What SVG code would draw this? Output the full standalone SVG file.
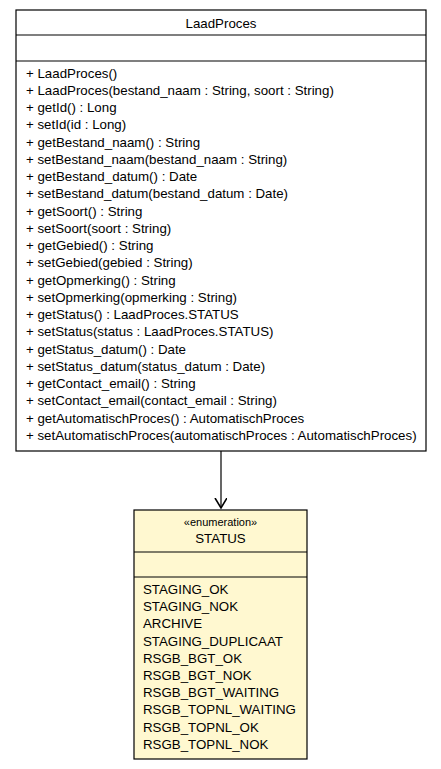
<svg xmlns="http://www.w3.org/2000/svg" width="441" height="769" viewBox="0 0 441 769">
<style>
text{font-family:"Liberation Sans",Arial,sans-serif;font-size:13.3px;fill:#000}
.c{text-anchor:middle}
.st{font-size:11px}
.box{fill:#fff;stroke:#000;stroke-width:1.2}
.enum{fill:#FFF8D0;stroke:#000;stroke-width:1.2}
.ln{stroke:#000;stroke-width:1.2}
.conn{stroke:#000;stroke-width:1.2;fill:none}
</style>
<defs>
<marker id="open" markerWidth="14" markerHeight="14" refX="10" refY="6" orient="auto" markerUnits="userSpaceOnUse">
<path d="M0,0 L10,6 L0,12" fill="none" stroke="#000" stroke-width="1.6"/>
</marker>
</defs>
<rect x="0" y="0" width="441" height="769" fill="#fff"/>
<g id="LaadProces">
<rect class="box" x="16" y="10" width="410" height="441"/>
<line class="ln" x1="16" y1="35" x2="426" y2="35"/>
<line class="ln" x1="16" y1="61" x2="426" y2="61"/>
<text class="c" x="221" y="27.5">LaadProces</text>
<text x="26" y="77.5">+ LaadProces()</text>
<text x="26" y="94.75">+ LaadProces(bestand_naam : String, soort : String)</text>
<text x="26" y="112">+ getId() : Long</text>
<text x="26" y="129.25">+ setId(id : Long)</text>
<text x="26" y="146.5">+ getBestand_naam() : String</text>
<text x="26" y="163.75">+ setBestand_naam(bestand_naam : String)</text>
<text x="26" y="181">+ getBestand_datum() : Date</text>
<text x="26" y="198.25">+ setBestand_datum(bestand_datum : Date)</text>
<text x="26" y="215.5">+ getSoort() : String</text>
<text x="26" y="232.75">+ setSoort(soort : String)</text>
<text x="26" y="250">+ getGebied() : String</text>
<text x="26" y="267.25">+ setGebied(gebied : String)</text>
<text x="26" y="284.5">+ getOpmerking() : String</text>
<text x="26" y="301.75">+ setOpmerking(opmerking : String)</text>
<text x="26" y="319">+ getStatus() : LaadProces.STATUS</text>
<text x="26" y="336.25">+ setStatus(status : LaadProces.STATUS)</text>
<text x="26" y="353.5">+ getStatus_datum() : Date</text>
<text x="26" y="370.75">+ setStatus_datum(status_datum : Date)</text>
<text x="26" y="388">+ getContact_email() : String</text>
<text x="26" y="405.25">+ setContact_email(contact_email : String)</text>
<text x="26" y="422.5">+ getAutomatischProces() : AutomatischProces</text>
<text x="26" y="439.75">+ setAutomatischProces(automatischProces : AutomatischProces)</text>
</g>
<g id="STATUS">
<rect class="enum" x="134" y="510" width="173" height="249"/>
<line class="ln" x1="134" y1="552" x2="307" y2="552"/>
<line class="ln" x1="134" y1="577" x2="307" y2="577"/>
<text class="c st" x="220.5" y="525.5">«enumeration»</text>
<text class="c" x="220.5" y="542.5">STATUS</text>
<text x="143" y="594">STAGING_OK</text>
<text x="143" y="611.2">STAGING_NOK</text>
<text x="143" y="628.4">ARCHIVE</text>
<text x="143" y="645.6">STAGING_DUPLICAAT</text>
<text x="143" y="662.8">RSGB_BGT_OK</text>
<text x="143" y="680">RSGB_BGT_NOK</text>
<text x="143" y="697.2">RSGB_BGT_WAITING</text>
<text x="143" y="714.4">RSGB_TOPNL_WAITING</text>
<text x="143" y="731.6">RSGB_TOPNL_OK</text>
<text x="143" y="748.8">RSGB_TOPNL_NOK</text>
</g>
<g id="connectors">
<line class="conn" x1="221" y1="451" x2="221" y2="508" marker-end="url(#open)"/>
</g>
</svg>
